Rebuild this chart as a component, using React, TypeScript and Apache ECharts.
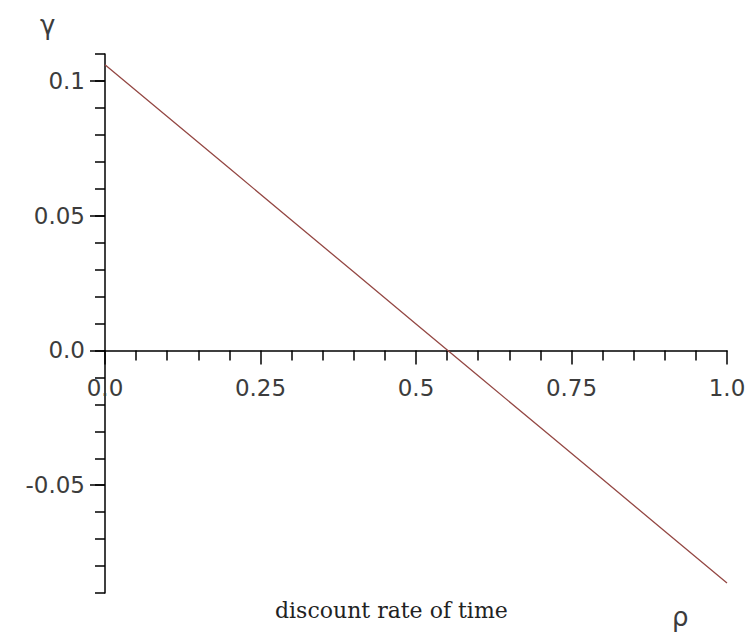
import React, { useEffect, useRef } from "react";
import * as echarts from "echarts";

// Data
const rhoValues = [0, 0.1, 0.2, 0.3, 0.4, 0.5, 0.6, 0.7, 0.8, 0.9, 1.0];
const gammaValues = [0.106, 0.0868, 0.0676, 0.0483, 0.0291, 0.0098, -0.0094, -0.0286, -0.0478, -0.0671, -0.0863];

const xTickValues = [0, 0.25, 0.5, 0.75, 1.0];
const xTickLabels = ["0.0", "0.25", "0.5", "0.75", "1.0"];
const yTickValues = [-0.05, 0, 0.05, 0.1];
const yTickLabels = ["-0.05", "0.0", "0.05", "0.1"];

const xTitle = "discount rate of time";
const xSymbol = "ρ";
const ySymbol = "γ";

function findLabel(v: number, values: number[], labels: string[]): string {
  for (let i = 0; i < values.length; i++) {
    if (Math.abs(values[i] - v) < 1e-6) return labels[i];
  }
  return "";
}

export default function App() {
  const ref = useRef<HTMLDivElement>(null);
  useEffect(() => {
    if (!ref.current) return;
    const chart = echarts.init(ref.current, undefined, { renderer: "svg" });
    const labelColor = "#3c3c3c";
    const font = "DejaVu Sans";
    chart.setOption({
      animation: false,
      backgroundColor: "#ffffff",
      grid: { left: 105, right: 28, top: 54, bottom: 41, containLabel: false },
      xAxis: {
        type: "value",
        min: 0,
        max: 1,
        interval: 0.25,
        axisLine: { onZero: true, lineStyle: { color: "#000", width: 1.5 } },
        axisTick: { show: true, length: 14, lineStyle: { color: "#000", width: 1.5 } },
        minorTick: { show: true, splitNumber: 5, length: 10, lineStyle: { color: "#000", width: 1.5 } },
        splitLine: { show: false },
        minorSplitLine: { show: false },
        axisLabel: {
          margin: -217,
          color: labelColor,
          fontFamily: font,
          fontSize: 23,
          formatter: (v: number) => findLabel(v, xTickValues, xTickLabels),
        },
      },
      yAxis: [
        {
          type: "value",
          min: -0.09,
          max: 0.11,
          interval: 0.01,
          axisLine: { show: true, lineStyle: { color: "#000", width: 1.5 } },
          axisTick: { show: true, length: 10, lineStyle: { color: "#000", width: 1.5 } },
          splitLine: { show: false },
          axisLabel: {
            show: true,
            interval: 0,
            margin: 20,
            color: labelColor,
            fontFamily: font,
            fontSize: 23,
            formatter: (v: number) => findLabel(v, yTickValues, yTickLabels),
          },
        },
        {
          type: "value",
          min: -0.09,
          max: 0.11,
          interval: 0.01,
          position: "left",
          axisLine: { show: false },
          axisTick: { show: true, length: 15, customValues: yTickValues, lineStyle: { color: "#000", width: 1.5 } },
          splitLine: { show: false },
          axisLabel: { show: false },
        },
      ],
      series: [
        {
          type: "line",
          data: rhoValues.map((r, i) => [r, gammaValues[i]]),
          showSymbol: false,
          symbol: "none",
          lineStyle: { color: "#944844", width: 1.3 },
          z: 3,
        },
      ],
      graphic: [
        {
          type: "text",
          left: 40,
          top: 12,
          style: { text: ySymbol, font: "26px 'DejaVu Sans'", fill: labelColor },
        },
        {
          type: "text",
          left: 672,
          top: 604,
          style: { text: xSymbol, font: "26px 'DejaVu Sans'", fill: labelColor },
        },
        {
          type: "text",
          left: 275,
          top: 599,
          style: { text: xTitle, font: "22px 'DejaVu Serif'", fill: "#222" },
        },
      ],
    });
    return () => chart.dispose();
  }, []);
  return (
    <div
      ref={ref}
      style={{ position: "fixed", left: 0, top: 0, width: 755, height: 634, background: "#fff" }}
    />
  );
}
